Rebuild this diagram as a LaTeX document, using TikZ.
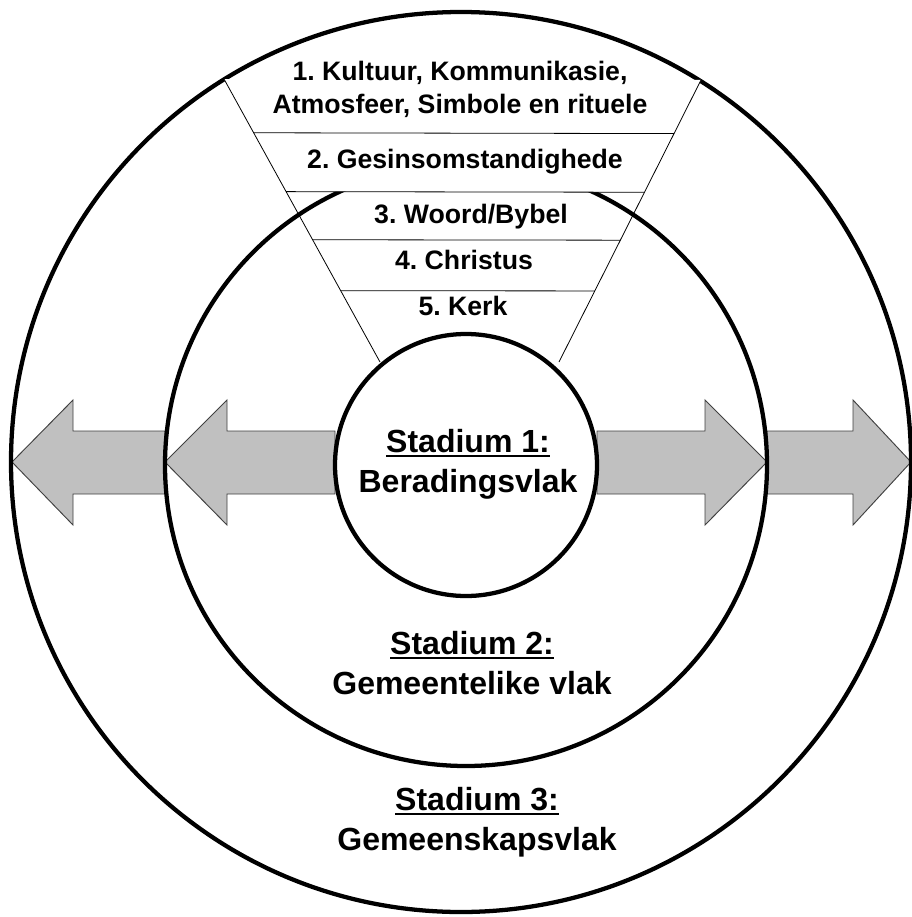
\documentclass[tikz,border=0pt]{standalone}
\usepackage{fontspec}
\setmainfont{Liberation Sans}
\usetikzlibrary{calc}
\definecolor{arrowgray}{HTML}{C0C0C0}
\newcommand{\stadhead}[1]{\setbox0\hbox{#1}\rlap{\rule[-3.5pt]{\wd0}{1.5pt}}\box0}
\frenchspacing

\begin{document}
\begin{tikzpicture}[x=0.75pt,y=-0.75pt,font=\bfseries,
  ring/.style={line width=3.2pt},
  funnel/.style={line width=0.6pt},
  bigarrow/.style={fill=arrowgray,draw=black!75,line width=0.7pt,line join=miter},
  level/.style={font=\fontsize{20}{24.75}\selectfont\bfseries,align=center},
  stage/.style={font=\fontsize{24}{30}\selectfont\bfseries,align=center}]
  \useasboundingbox (0,0) rectangle (912,917);
  % double arrows across the rings
  \foreach \s/\b/\t in {165/73/12,335/227/165,597/705/767,767/853/911}
    \draw[bigarrow] (\s,431) -- (\b,431) -- (\b,400) -- (\t,462) -- (\b,525) -- (\b,494) -- (\s,494) -- cycle;
  % rings
  \coordinate (c) at (466,465);
  \draw[ring] (461,462) circle[radius=337.5pt];
  \draw[ring] (c) circle[radius=225.75pt];
  \draw[ring] (c) circle[radius=98.25pt];
  % funnel
  \coordinate (fl) at (224,79);
  \coordinate (fr) at (701,80);
  \coordinate (bl) at (380,362);
  \coordinate (br) at (559,362);
  \fill[white] (fl) -- (fr) -- ($(fr)!0.398!(br)$) -- ($(fl)!0.398!(bl)$) -- cycle;
  \draw[funnel] (fl) -- (bl) (fr) -- (br);
  \foreach \t in {0.19,0.398,0.568,0.748}
    \draw[funnel] ($(fl)!\t!(bl)$) -- ($(fr)!\t!(br)$);
  \node[level] (lv1) at (460,89) {1. Kultuur, Kommunikasie,\\Atmosfeer, Simbole en rituele};
  \node[level] (lv2) at (465,162) {2. Gesinsomstandighede};
  \node[level] (lv3) at (471,217) {3. Woord/Bybel};
  \node[level] (lv4) at (464,260) {4. Christus};
  \node[level] (lv5) at (463,306) {5. Kerk};
  % stages
  \node[stage] (st1) at (468,464) {\stadhead{Stadium 1:}\\Beradingsvlak};
  \node[stage] (st2) at (472,663) {\stadhead{Stadium 2:}\\Gemeentelike vlak};
  \node[stage] (st3) at (477,822) {\stadhead{Stadium 3:}\\Gemeenskapsvlak};
\end{tikzpicture}
\end{document}
